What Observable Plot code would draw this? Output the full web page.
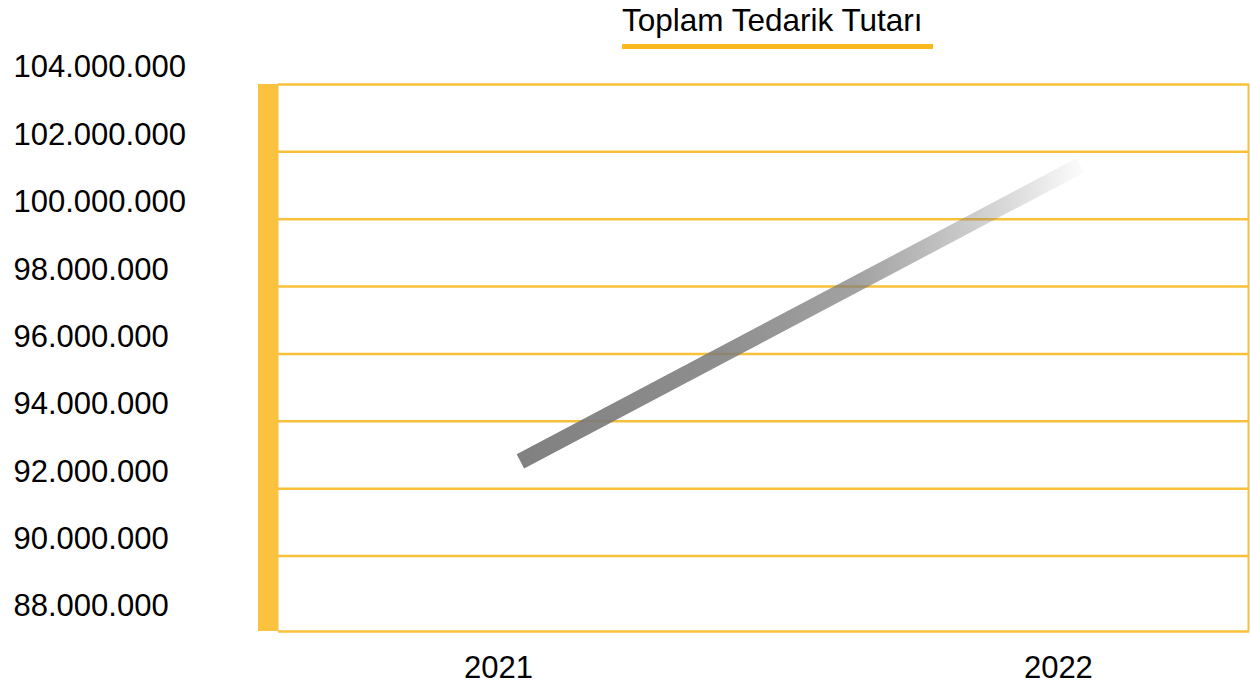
<!DOCTYPE html>
<html>
<head>
<meta charset="utf-8">
<script src="https://cdn.jsdelivr.net/npm/d3@7"></script>
<script src="https://cdn.jsdelivr.net/npm/@observablehq/plot@0.6"></script>
<style>
  html, body { margin: 0; padding: 0; background: #fff; }
  #wrap { position: relative; width: 1250px; height: 688px; font-family: "Liberation Sans", Arial, sans-serif; }
  #title { position: absolute; left: 622px; top: 5px; font-size: 31.5px; line-height: 31.5px; color: #000; white-space: nowrap; z-index: 2; }
  #underline { position: absolute; left: 622px; top: 44px; width: 311px; height: 5px; background: #F9B91C; z-index: 2; }
  #chart { position: absolute; left: 0; top: 0; }
</style>
</head>
<body>
<div id="wrap">
  <div id="title">Toplam Tedarik Tutarı</div>
  <div id="underline"></div>
  <div id="chart"></div>
</div>
<script>
// Data
const years = [2021, 2022];
const totals = [92810000, 101600000];
const yTicks = [88000000, 90000000, 92000000, 94000000, 96000000, 98000000, 100000000, 102000000, 104000000];
const yDomain = [87760000, 104000000];
const xDomain = [2020.568, 2022.302];

const data = years.map((y, i) => ({year: y, total: totals[i]}));
const fmt = d3.formatLocale({decimal: ",", thousands: ".", grouping: [3], currency: ["", ""]}).format(",d");

const yellow = "#F9C03A";
const barYellow = "#FBC23F";

const svg = Plot.plot({
  width: 1250,
  height: 688,
  marginTop: 84,
  marginBottom: 57,
  marginLeft: 278,
  marginRight: 1,
  style: {fontFamily: "'Liberation Sans', Arial, sans-serif", background: "transparent", color: "#000"},
  x: {type: "linear", domain: xDomain, label: null},
  y: {type: "linear", domain: yDomain, label: null},
  marks: [
    Plot.ruleY(yTicks.slice(1), {stroke: yellow, strokeWidth: 2.5}),
    Plot.ruleY([yDomain[0]], {stroke: yellow, strokeWidth: 2.5}),
    Plot.ruleX([xDomain[1]], {stroke: yellow, strokeWidth: 2, dx: -1}),
    Plot.ruleX([xDomain[0]], {stroke: barYellow, strokeWidth: 20.5, dx: -10.25}),
    Plot.line(data, {x: "year", y: "total", stroke: "url(#lineGrad)", strokeWidth: 16, strokeLinecap: "butt"}),
    Plot.axisY({ticks: yTicks, tickFormat: fmt, tickSize: 0, tickPadding: 265, textAnchor: "start", dy: -17, fontSize: 31, fill: "#000", label: null}),
    Plot.axisX({ticks: years, tickFormat: d => String(d), tickSize: 0, tickPadding: 24, dx: -22, fontSize: 31, fill: "#000", label: null})
  ]
});

const defs = d3.select(svg).insert("defs", ":first-child");
const grad = defs.append("linearGradient").attr("id", "lineGrad").attr("x1", 0).attr("x2", 1).attr("y1", 0).attr("y2", 0);
[[0, 0.95], [0.35, 0.85], [0.6, 0.7], [0.86, 0.3], [1, 0.03]].forEach(([o, op]) => {
  grad.append("stop").attr("offset", o).attr("stop-color", "#7a7a7a").attr("stop-opacity", op);
});

document.getElementById("chart").appendChild(svg);
</script>
</body>
</html>
